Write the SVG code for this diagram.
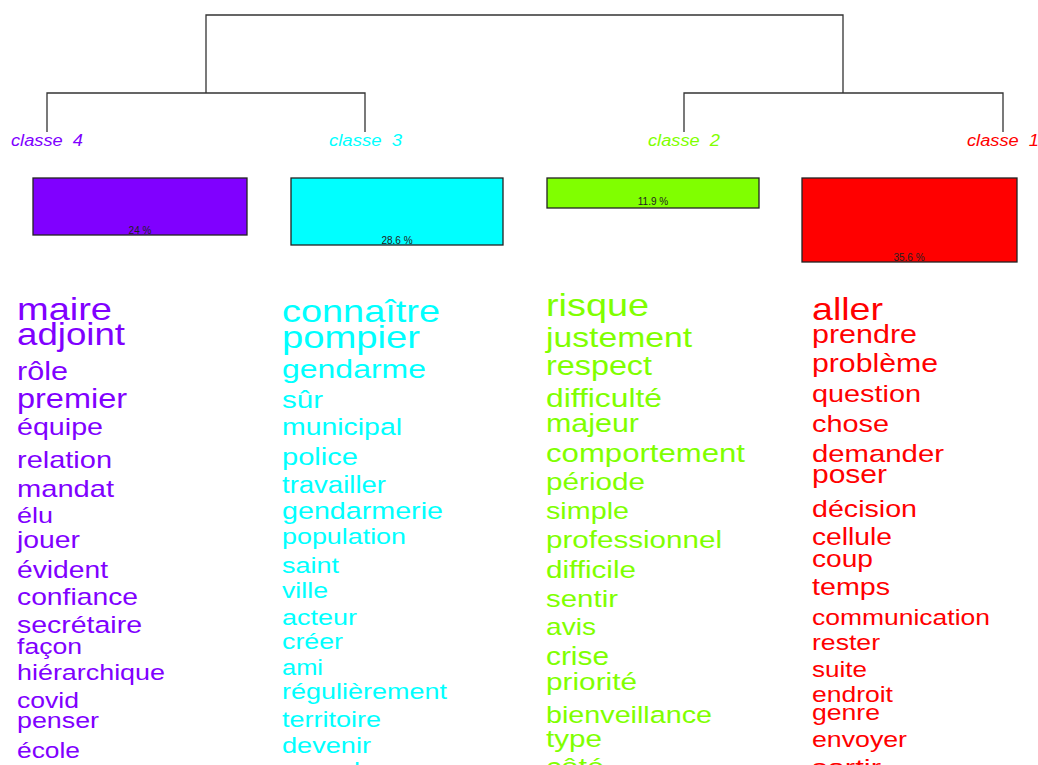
<svg xmlns="http://www.w3.org/2000/svg" width="1038" height="765" viewBox="0 0 1038 765">
<style>
.w{font-family:"Liberation Sans",Arial,sans-serif}
.lbl{font-family:"Liberation Sans",Arial,sans-serif;font-style:italic;font-size:16px}
.pct{font-family:"Liberation Sans",Arial,sans-serif;font-size:10px;fill:#222;text-anchor:middle}
.bar{stroke:#222;stroke-width:1.3}
.c4{fill:#8000FF}.c3{fill:#00FFFF}.c2{fill:#80FF00}.c1{fill:#FF0000}
.tree{fill:none;stroke:#333;stroke-width:1.3}
</style>
<rect width="1038" height="765" fill="#fff"/>
<g id="connectors" class="tree">
<path d="M206,93 V15 H843 V93"/>
<path d="M47,132 V93 H365 V132"/>
<path d="M684,132 V93 H1003 V132"/>
</g>
<g id="classe4">
<text class="lbl c4" x="11" y="146" textLength="72" lengthAdjust="spacingAndGlyphs">classe&#160; 4</text>
<rect class="bar c4" x="33" y="178" width="214" height="57"/>
<text class="pct" x="140" y="234">24 %</text>
<g class="w c4" lengthAdjust="spacingAndGlyphs">
<text x="17" y="320" font-size="31.7" textLength="95" lengthAdjust="spacingAndGlyphs">maire</text>
<text x="17" y="345" font-size="30.5" textLength="108" lengthAdjust="spacingAndGlyphs">adjoint</text>
<text x="17" y="380" font-size="25.5" textLength="51" lengthAdjust="spacingAndGlyphs">rôle</text>
<text x="17" y="408" font-size="27" textLength="110" lengthAdjust="spacingAndGlyphs">premier</text>
<text x="17" y="435" font-size="23.9" textLength="86" lengthAdjust="spacingAndGlyphs">équipe</text>
<text x="17" y="468" font-size="24" textLength="95" lengthAdjust="spacingAndGlyphs">relation</text>
<text x="17" y="497" font-size="24" textLength="97" lengthAdjust="spacingAndGlyphs">mandat</text>
<text x="17" y="523" font-size="22.5" textLength="36" lengthAdjust="spacingAndGlyphs">élu</text>
<text x="17" y="548" font-size="23.6" textLength="63" lengthAdjust="spacingAndGlyphs">jouer</text>
<text x="17" y="578" font-size="23.5" textLength="91" lengthAdjust="spacingAndGlyphs">évident</text>
<text x="17" y="605" font-size="23.6" textLength="121" lengthAdjust="spacingAndGlyphs">confiance</text>
<text x="17" y="633" font-size="23.7" textLength="125" lengthAdjust="spacingAndGlyphs">secrétaire</text>
<text x="17" y="654" font-size="22" textLength="65" lengthAdjust="spacingAndGlyphs">façon</text>
<text x="17" y="680" font-size="22.4" textLength="148" lengthAdjust="spacingAndGlyphs">hiérarchique</text>
<text x="17" y="708" font-size="22" textLength="62" lengthAdjust="spacingAndGlyphs">covid</text>
<text x="17" y="728" font-size="22.3" textLength="82" lengthAdjust="spacingAndGlyphs">penser</text>
<text x="17" y="758" font-size="22" textLength="63" lengthAdjust="spacingAndGlyphs">école</text>
</g>
</g>
<g id="classe3">
<text class="lbl c3" x="329" y="146" textLength="73" lengthAdjust="spacingAndGlyphs">classe&#160; 3</text>
<rect class="bar c3" x="291" y="178" width="212" height="67"/>
<text class="pct" x="397" y="244">28.6 %</text>
<g class="w c3">
<text x="282" y="322" font-size="31.6" textLength="158" lengthAdjust="spacingAndGlyphs">connaître</text>
<text x="282" y="348" font-size="31.8" textLength="138" lengthAdjust="spacingAndGlyphs">pompier</text>
<text x="282" y="378" font-size="26.7" textLength="144" lengthAdjust="spacingAndGlyphs">gendarme</text>
<text x="282" y="408" font-size="24.6" textLength="41" lengthAdjust="spacingAndGlyphs">sûr</text>
<text x="282" y="435" font-size="23.7" textLength="120" lengthAdjust="spacingAndGlyphs">municipal</text>
<text x="282" y="465" font-size="24.2" textLength="76" lengthAdjust="spacingAndGlyphs">police</text>
<text x="282" y="493" font-size="23" textLength="104" lengthAdjust="spacingAndGlyphs">travailler</text>
<text x="282" y="519" font-size="23.9" textLength="161" lengthAdjust="spacingAndGlyphs">gendarmerie</text>
<text x="282" y="544" font-size="22.4" textLength="124" lengthAdjust="spacingAndGlyphs">population</text>
<text x="282" y="573" font-size="22.5" textLength="57" lengthAdjust="spacingAndGlyphs">saint</text>
<text x="282" y="598" font-size="22.3" textLength="46" lengthAdjust="spacingAndGlyphs">ville</text>
<text x="282" y="625" font-size="22.5" textLength="75" lengthAdjust="spacingAndGlyphs">acteur</text>
<text x="282" y="649" font-size="22.3" textLength="61" lengthAdjust="spacingAndGlyphs">créer</text>
<text x="282" y="675" font-size="21.2" textLength="41" lengthAdjust="spacingAndGlyphs">ami</text>
<text x="282" y="699" font-size="22.5" textLength="165" lengthAdjust="spacingAndGlyphs">régulièrement</text>
<text x="282" y="727" font-size="22.5" textLength="99" lengthAdjust="spacingAndGlyphs">territoire</text>
<text x="282" y="753" font-size="22.6" textLength="89" lengthAdjust="spacingAndGlyphs">devenir</text>
<text x="282" y="778" font-size="22.5" textLength="102" lengthAdjust="spacingAndGlyphs">regarder</text>
</g>
</g>
<g id="classe2">
<text class="lbl c2" x="648" y="146" textLength="72" lengthAdjust="spacingAndGlyphs">classe&#160; 2</text>
<rect class="bar c2" x="547" y="178" width="212" height="30"/>
<text class="pct" x="653" y="205">11.9 %</text>
<g class="w c2">
<text x="546" y="316" font-size="31.5" textLength="103" lengthAdjust="spacingAndGlyphs">risque</text>
<text x="546" y="347" font-size="28" textLength="146" lengthAdjust="spacingAndGlyphs">justement</text>
<text x="546" y="375" font-size="27" textLength="106" lengthAdjust="spacingAndGlyphs">respect</text>
<text x="546" y="407" font-size="25" textLength="116" lengthAdjust="spacingAndGlyphs">difficulté</text>
<text x="546" y="432" font-size="25.4" textLength="93" lengthAdjust="spacingAndGlyphs">majeur</text>
<text x="546" y="462" font-size="26" textLength="199" lengthAdjust="spacingAndGlyphs">comportement</text>
<text x="546" y="490" font-size="24.7" textLength="99" lengthAdjust="spacingAndGlyphs">période</text>
<text x="546" y="519" font-size="24" textLength="83" lengthAdjust="spacingAndGlyphs">simple</text>
<text x="546" y="548" font-size="24.7" textLength="176" lengthAdjust="spacingAndGlyphs">professionnel</text>
<text x="546" y="578" font-size="23" textLength="90" lengthAdjust="spacingAndGlyphs">difficile</text>
<text x="546" y="607" font-size="24.5" textLength="72" lengthAdjust="spacingAndGlyphs">sentir</text>
<text x="546" y="635" font-size="23.4" textLength="50" lengthAdjust="spacingAndGlyphs">avis</text>
<text x="546" y="665" font-size="24.9" textLength="63" lengthAdjust="spacingAndGlyphs">crise</text>
<text x="546" y="690" font-size="24.8" textLength="91" lengthAdjust="spacingAndGlyphs">priorité</text>
<text x="546" y="723" font-size="23.9" textLength="166" lengthAdjust="spacingAndGlyphs">bienveillance</text>
<text x="546" y="747" font-size="24.7" textLength="56" lengthAdjust="spacingAndGlyphs">type</text>
<text x="546" y="775" font-size="24" textLength="58" lengthAdjust="spacingAndGlyphs">côté</text>
</g>
</g>
<g id="classe1">
<text class="lbl c1" x="967" y="146" textLength="72" lengthAdjust="spacingAndGlyphs">classe&#160; 1</text>
<rect class="bar c1" x="802" y="178" width="215" height="84"/>
<text class="pct" x="909" y="261">35.6 %</text>
<g class="w c1">
<text x="812" y="320" font-size="31.3" textLength="71" lengthAdjust="spacingAndGlyphs">aller</text>
<text x="812" y="343" font-size="25.4" textLength="105" lengthAdjust="spacingAndGlyphs">prendre</text>
<text x="812" y="372" font-size="25.2" textLength="126" lengthAdjust="spacingAndGlyphs">problème</text>
<text x="812" y="402" font-size="24" textLength="109" lengthAdjust="spacingAndGlyphs">question</text>
<text x="812" y="432" font-size="24" textLength="77" lengthAdjust="spacingAndGlyphs">chose</text>
<text x="812" y="462" font-size="24.4" textLength="132" lengthAdjust="spacingAndGlyphs">demander</text>
<text x="812" y="483" font-size="25" textLength="75" lengthAdjust="spacingAndGlyphs">poser</text>
<text x="812" y="517" font-size="23.9" textLength="105" lengthAdjust="spacingAndGlyphs">décision</text>
<text x="812" y="545" font-size="23.5" textLength="80" lengthAdjust="spacingAndGlyphs">cellule</text>
<text x="812" y="567" font-size="23.5" textLength="61" lengthAdjust="spacingAndGlyphs">coup</text>
<text x="812" y="595" font-size="23.9" textLength="78" lengthAdjust="spacingAndGlyphs">temps</text>
<text x="812" y="625" font-size="22" textLength="178" lengthAdjust="spacingAndGlyphs">communication</text>
<text x="812" y="650" font-size="22.2" textLength="68" lengthAdjust="spacingAndGlyphs">rester</text>
<text x="812" y="677" font-size="21.7" textLength="55" lengthAdjust="spacingAndGlyphs">suite</text>
<text x="812" y="702" font-size="22" textLength="81" lengthAdjust="spacingAndGlyphs">endroit</text>
<text x="812" y="720" font-size="22.2" textLength="68" lengthAdjust="spacingAndGlyphs">genre</text>
<text x="812" y="747" font-size="22.3" textLength="95" lengthAdjust="spacingAndGlyphs">envoyer</text>
<text x="812" y="775" font-size="22" textLength="69" lengthAdjust="spacingAndGlyphs">sortir</text>
</g>
</g>
</svg>
